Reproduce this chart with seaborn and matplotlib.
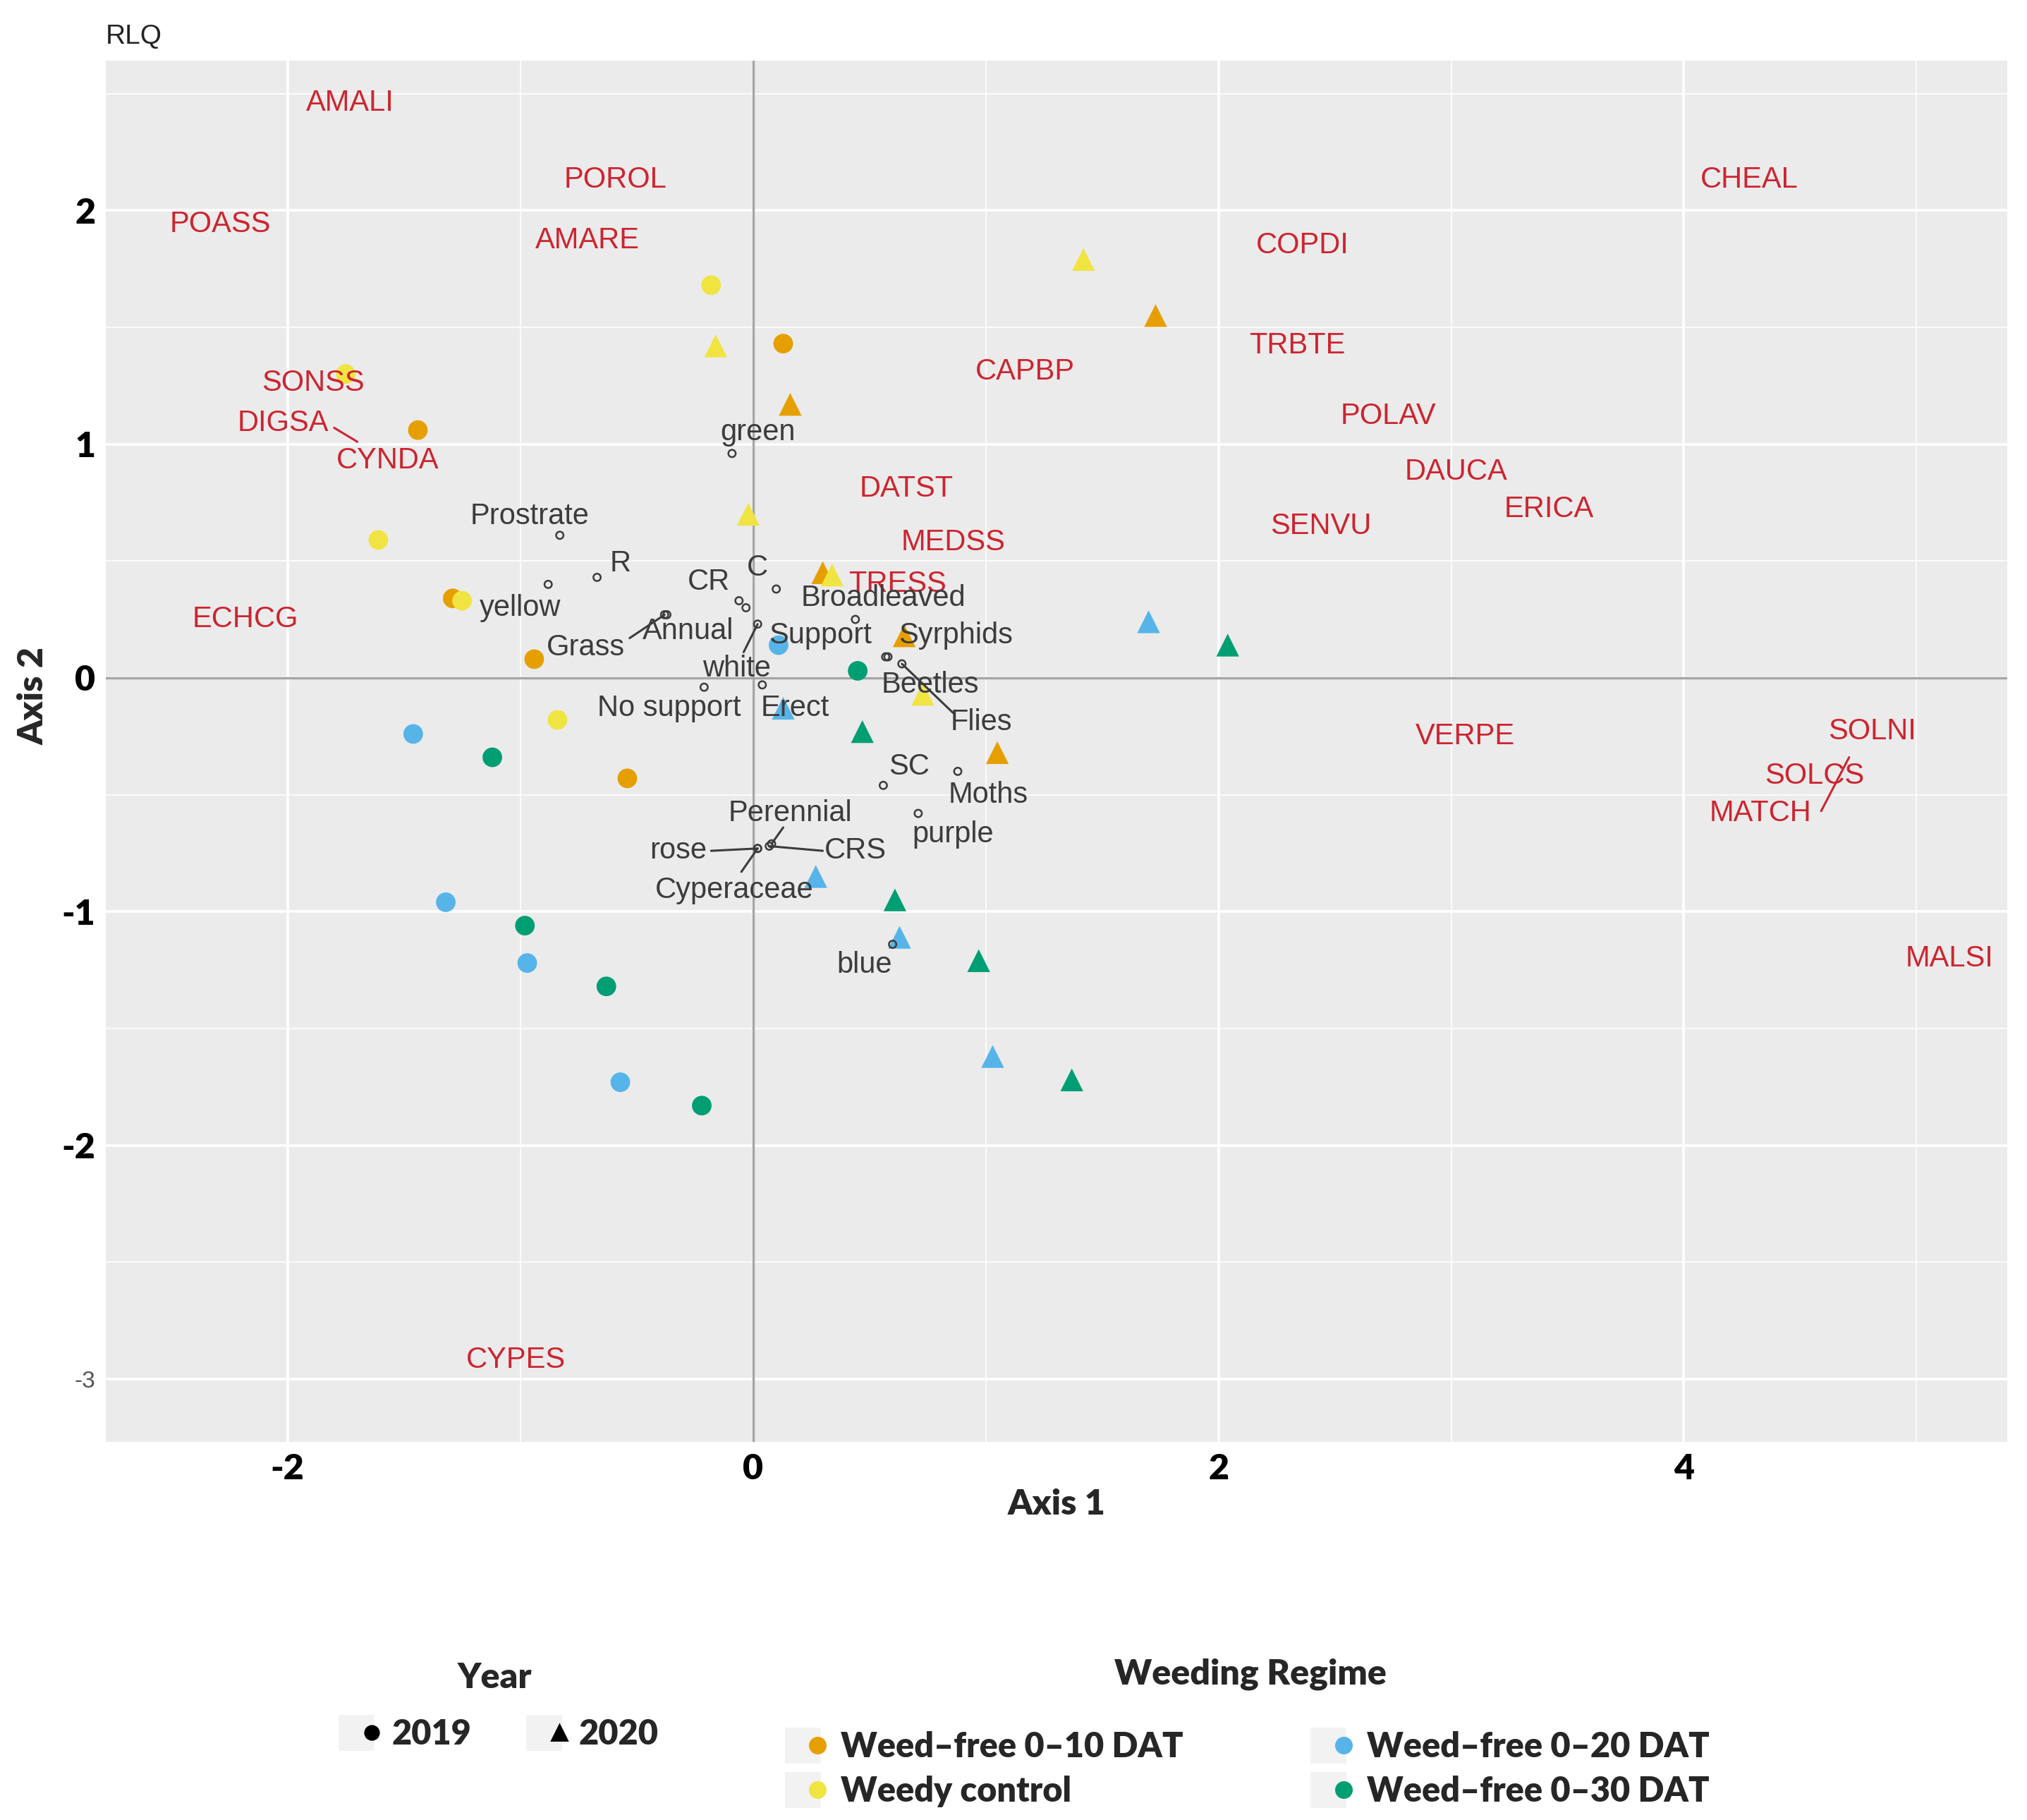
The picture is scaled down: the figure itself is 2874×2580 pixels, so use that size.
import matplotlib

matplotlib.use("Agg")

import matplotlib.pyplot as plt
from matplotlib.lines import Line2D
from matplotlib.legend_handler import HandlerTuple
from matplotlib.ticker import MultipleLocator
import seaborn as sns
import pandas as pd

# ---- site scores (coloured points) ----
site_x = [-1.44, -1.29, -0.94, -0.54, 0.13,
          0.16, 1.73, 0.30, 0.65, 1.05,
          -1.75, -1.61, -1.25, -0.84, -0.18,
          1.42, -0.16, -0.02, 0.34, 0.73,
          -1.46, -1.32, -0.97, -0.57, 0.11,
          1.70, 0.13, 0.27, 0.63, 1.03,
          -1.12, -0.98, -0.63, -0.22, 0.45,
          2.04, 0.47, 0.61, 0.97, 1.37]
site_y = [1.06, 0.34, 0.08, -0.43, 1.43,
          1.17, 1.55, 0.45, 0.18, -0.32,
          1.30, 0.59, 0.33, -0.18, 1.68,
          1.79, 1.42, 0.70, 0.44, -0.07,
          -0.24, -0.96, -1.22, -1.73, 0.14,
          0.24, -0.13, -0.85, -1.11, -1.62,
          -0.34, -1.06, -1.32, -1.83, 0.03,
          0.14, -0.23, -0.95, -1.21, -1.72]
regimes = ["Weed\u2013free 0\u201310 DAT", "Weedy control",
           "Weed\u2013free 0\u201320 DAT", "Weed\u2013free 0\u201330 DAT"]
site_regime = [r for r in regimes for _ in range(10)]
site_year = (["2019"] * 5 + ["2020"] * 5) * 4
regime_colors = ["#E69F00", "#F0E442", "#56B4E9", "#009E73"]

# ---- species scores (red labels) ----
sp_names = ["AMALI", "POROL", "POASS", "AMARE", "SONSS", "DIGSA", "CYNDA", "ECHCG",
            "CHEAL", "COPDI", "TRBTE", "CAPBP", "POLAV", "DAUCA", "ERICA", "SENVU",
            "DATST", "MEDSS", "TRESS", "VERPE", "SOLNI", "SOLCS", "MATCH", "MALSI", "CYPES"]
sp_x = [-1.73, -0.59, -2.29, -0.71, -1.89, -2.02, -1.57, -2.18,
        4.28, 2.36, 2.34, 1.17, 2.73, 3.02, 3.42, 2.44,
        0.66, 0.86, 0.62, 3.06, 4.81, 4.56, 4.33, 5.14, -1.02]
sp_y = [2.46, 2.13, 1.94, 1.87, 1.26, 1.09, 0.93, 0.25,
        2.13, 1.85, 1.42, 1.31, 1.12, 0.88, 0.72, 0.65,
        0.81, 0.58, 0.40, -0.25, -0.23, -0.42, -0.58, -1.20, -2.92]
sp_seg = {"DIGSA": ((-1.80, 1.07), (-1.70, 1.01)),
          "MATCH": ((4.59, -0.57), (4.71, -0.34))}

# ---- trait / variable scores (small open points + grey labels) ----
tr_names = ["Prostrate", "R", "yellow", "CR", "C", "Broadleaved", "Annual", "Grass",
            "white", "Support", "Syrphids", "Beetles", "Flies", "No support", "Erect",
            "SC", "Moths", "purple", "Perennial", "rose", "CRS", "Cyperaceae", "blue", "green"]
tr_x = [-0.83, -0.67, -0.88, -0.06, 0.10, 0.44, -0.37, -0.38,
        0.02, -0.03, 0.57, 0.58, 0.64, -0.21, 0.04,
        0.56, 0.88, 0.71, 0.08, 0.02, 0.07, 0.02, 0.60, -0.09]
tr_y = [0.61, 0.43, 0.40, 0.33, 0.38, 0.25, 0.27, 0.27,
        0.23, 0.30, 0.09, 0.09, 0.06, -0.04, -0.03,
        -0.46, -0.40, -0.58, -0.71, -0.73, -0.72, -0.73, -1.14, 0.96]
tr_lab_x = [-0.96, -0.57, -1.00, -0.19, 0.02, 0.56, -0.28, -0.72,
            -0.07, 0.29, 0.87, 0.76, 0.98, -0.36, 0.18,
            0.67, 1.01, 0.86, 0.16, -0.32, 0.44, -0.08, 0.48, 0.02]
tr_lab_y = [0.69, 0.49, 0.30, 0.41, 0.47, 0.34, 0.20, 0.13,
            0.04, 0.18, 0.18, -0.03, -0.19, -0.13, -0.13,
            -0.38, -0.50, -0.67, -0.58, -0.74, -0.74, -0.91, -1.23, 1.05]
tr_seg = {"Grass": (-0.53, 0.17), "white": (-0.04, 0.11), "Flies": (0.86, -0.15),
          "Perennial": (0.13, -0.64), "rose": (-0.18, -0.74), "CRS": (0.30, -0.74),
          "Cyperaceae": (-0.05, -0.83)}

red = "#cc2530"
dark = "#3c3c3c"
sans = ["Liberation Sans", "DejaVu Sans"]
bold = ["Lato", "DejaVu Sans"]

sns.set_style("white")
plt.rcParams["font.family"] = sans

sites = pd.DataFrame({"x": site_x, "y": site_y, "Regime": site_regime, "Year": site_year})
traits = pd.DataFrame({"x": tr_x, "y": tr_y})

fig = plt.figure(figsize=(14.37, 12.9), dpi=200)
ax = fig.add_axes([0.0523, 0.2076, 0.938, 0.759])
ax.set_facecolor("#EBEBEB")
for s in ax.spines.values():
    s.set_visible(False)

ax.set_xlim(-2.78, 5.39)
ax.set_ylim(-3.27, 2.64)
ax.xaxis.set_minor_locator(MultipleLocator(1))
ax.yaxis.set_minor_locator(MultipleLocator(0.5))
ax.set_axisbelow(True)
ax.grid(which="major", color="white", lw=1.3)
ax.grid(which="minor", color="white", lw=0.6)
ax.tick_params(which="minor", length=0)
ax.tick_params(which="major", length=3.5, width=0.9, color="#8a8a8a", pad=2)

ax.axhline(0, color="#a5a5a5", lw=1.2, zorder=1)
ax.axvline(0, color="#a5a5a5", lw=1.2, zorder=1)

palette = dict(zip(regimes, regime_colors))
sns.scatterplot(data=sites[sites["Year"] == "2019"], x="x", y="y", hue="Regime",
                palette=palette, marker="o", s=100, linewidth=0, legend=False, ax=ax, zorder=2)
sns.scatterplot(data=sites[sites["Year"] == "2020"], x="x", y="y", hue="Regime",
                palette=palette, marker="^", s=135, linewidth=0, legend=False, ax=ax, zorder=2)

sns.scatterplot(data=traits, x="x", y="y", marker="o", s=14, facecolors="none",
                edgecolor=dark, linewidth=0.9, legend=False, ax=ax, zorder=3)

for name, (p0, p1) in sp_seg.items():
    ax.plot([p0[0], p1[0]], [p0[1], p1[1]], color=red, lw=1.1, zorder=3)
for name, lx, ly in zip(sp_names, sp_x, sp_y):
    ax.text(lx, ly, name, color=red, fontsize=15, ha="center", va="center", zorder=4)

for name, px, py in zip(tr_names, tr_x, tr_y):
    if name in tr_seg:
        sx, sy = tr_seg[name]
        ax.plot([sx, px], [sy, py], color=dark, lw=1.1, zorder=3)
for name, lx, ly in zip(tr_names, tr_lab_x, tr_lab_y):
    ax.text(lx, ly, name, color=dark, fontsize=15, ha="center", va="center", zorder=4)

tick_kw = dict(fontfamily=bold, fontweight="heavy", fontsize=18, color="black")
ax.set_xticks([-2, 0, 2, 4])
ax.set_xticklabels(["-2", "0", "2", "4"], **tick_kw)
ax.set_yticks([-3, -2, -1, 0, 1, 2])
ax.set_yticklabels(["-3", "-2", "-1", "0", "1", "2"], **tick_kw)
lab3 = ax.get_yticklabels()[0]
lab3.set_fontfamily(sans)
lab3.set_fontweight("normal")
lab3.set_fontsize(12)
lab3.set_color("#555555")

ax.set_xlabel("Axis 1", fontfamily=bold, fontweight="heavy", fontsize=18, labelpad=2)
ax.set_ylabel("Axis 2", fontfamily=bold, fontweight="heavy", fontsize=18)
ax.yaxis.set_label_coords(-0.030, 0.54)

fig.text(0.052, 0.980, "RLQ", fontsize=14, color="#222222", ha="left", va="center")

# ---- legends ----
key_bg = dict(marker="s", ms=17, color="#F2F2F2", ls="")
leg_font = dict(family=bold, weight="heavy", size=17.5)
hmap = {tuple: HandlerTuple(ndivide=None)}

year_handles = [(Line2D([], [], **key_bg), Line2D([], [], marker="o", ms=7, color="black", ls="")),
                (Line2D([], [], **key_bg), Line2D([], [], marker="^", ms=8, color="black", ls=""))]
fig.text(0.244, 0.078, "Year", ha="center", va="center", fontfamily=bold, fontweight="heavy", fontsize=18)
fig.legend(year_handles, ["2019", "2020"], loc="center left", bbox_to_anchor=(0.172, 0.047),
           ncol=2, frameon=False, prop=leg_font, handler_map=hmap,
           handlelength=0.9, handletextpad=0.35, columnspacing=1.9, borderpad=0, borderaxespad=0)

reg_handles = [(Line2D([], [], **key_bg), Line2D([], [], marker="o", ms=8, color=c, ls=""))
               for c in regime_colors]
fig.text(0.617, 0.080, "Weeding Regime", ha="center", va="center", fontfamily=bold, fontweight="heavy", fontsize=18)
fig.legend(reg_handles, regimes, loc="center left", bbox_to_anchor=(0.392, 0.028),
           ncol=2, frameon=False, prop=leg_font, handler_map=hmap,
           handlelength=0.9, handletextpad=0.45, columnspacing=4.0, labelspacing=0.38,
           borderpad=0, borderaxespad=0)

fig.savefig("out.png", dpi=200, facecolor="white")
